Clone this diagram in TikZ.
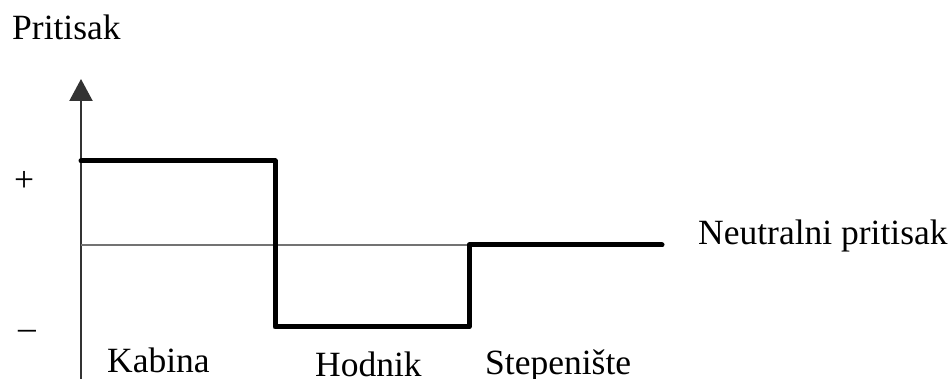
\documentclass[tikz,border=0pt]{standalone}
\usepackage{fontspec}
\setmainfont{Liberation Serif}
\usetikzlibrary{arrows.meta}
\begin{document}
\begin{tikzpicture}[x=1pt,y=-1pt,
  lbl/.style={inner sep=0pt,anchor=base west,font=\fontsize{35.5}{40}\selectfont},
  axis/.style={draw=black!80,line width=2.2pt,-{Triangle[width=23pt,length=22pt]}},
  neutral/.style={draw=black!55,line width=2pt},
  level/.style={draw=black,line width=5pt,line join=round,line cap=round}]
\useasboundingbox (0,0) rectangle (948,379);
\coordinate (o) at (81,379);
\coordinate (top) at (81,79);
\draw[axis] (o) -- (top);
\coordinate (n0) at (81,245);
\coordinate (n1) at (470,245);
\draw[neutral] (n0) -- (n1);
\coordinate (p0) at (81,161);
\coordinate (p1) at (275,161);
\coordinate (p2) at (275,327);
\coordinate (p3) at (469,327);
\coordinate (p4) at (469,245);
\coordinate (p5) at (662,245);
\draw[level] (p0) -- (p1) -- (p2) -- (p3) -- (p4) -- (p5);
\node[lbl] (ylab) at (12,40) {Pritisak};
\node[lbl] (plus) at (14,192) {+};
\node[lbl] (minus) at (18,340) {\textendash};
\node[lbl] (neu) at (698,245) {Neutralni pritisak};
\node[lbl] (kab) at (107,373) {Kabina};
\node[lbl] (hod) at (315,376) {Hodnik};
\node[lbl] (stp) at (485,374) {Stepenište};
\end{tikzpicture}
\end{document}
